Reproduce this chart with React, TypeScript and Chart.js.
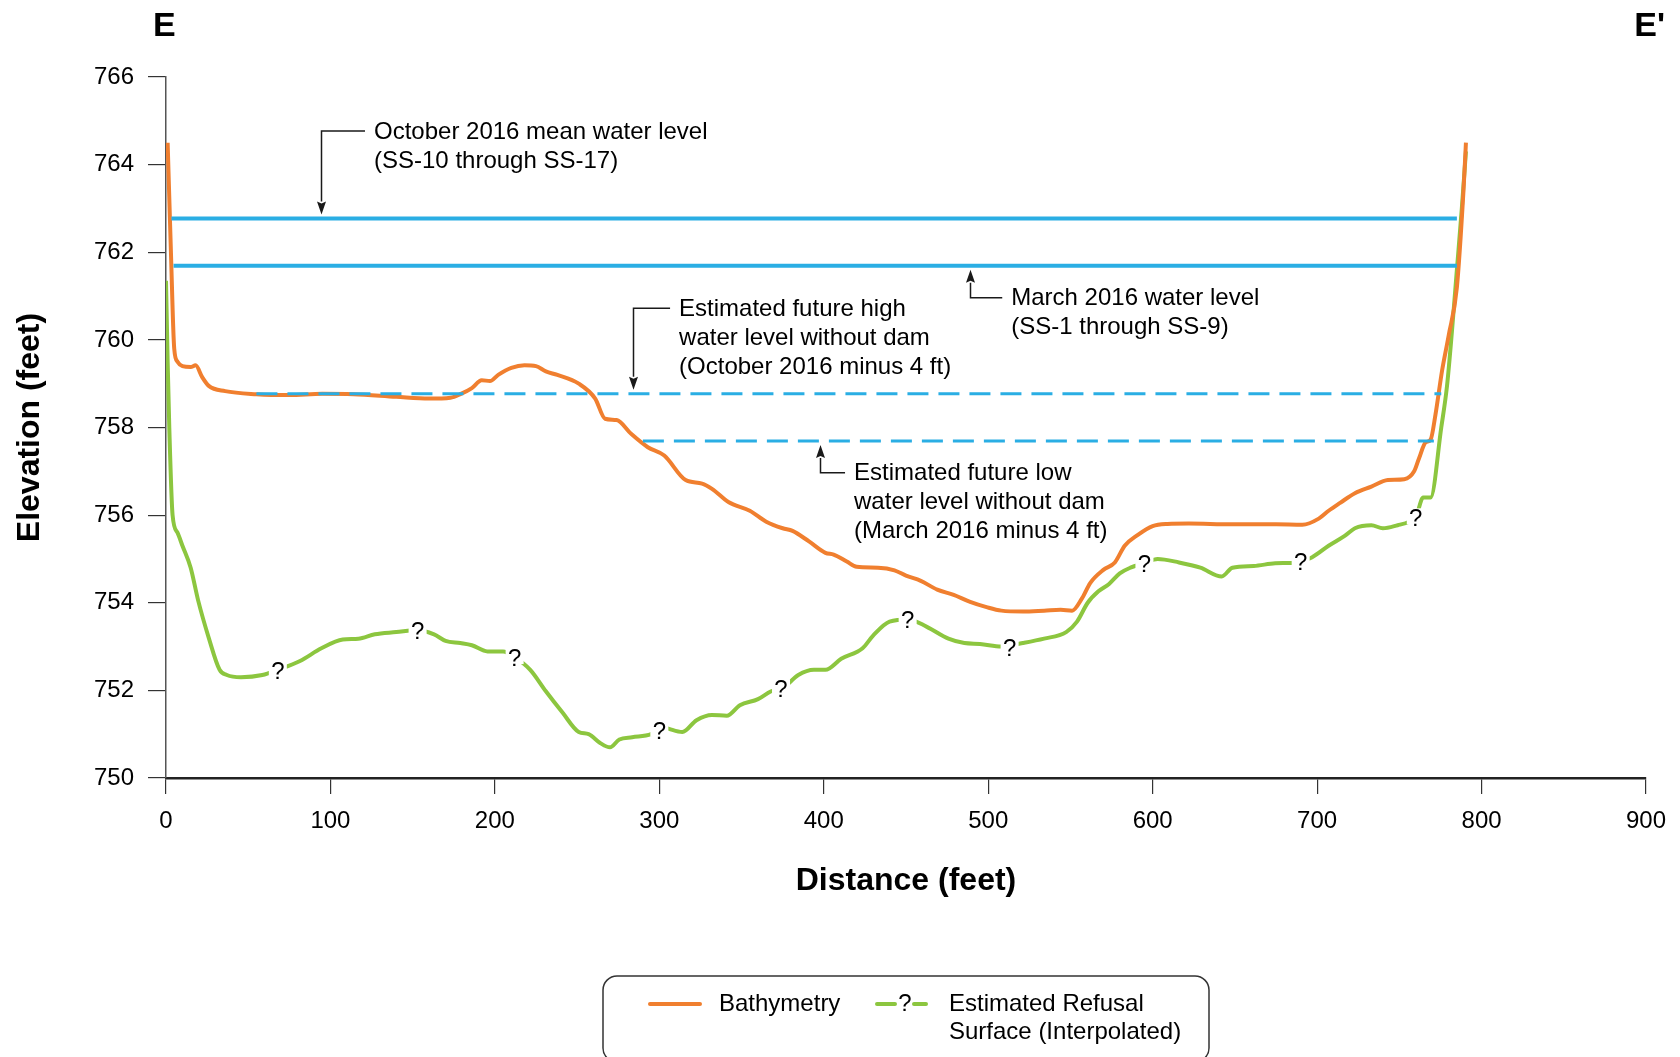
import React, { useEffect, useRef } from "react";
import { Chart, registerables } from "chart.js";

Chart.register(...registerables);

// Bathymetry profile: [distance (ft), elevation (ft)]
const bathymetry: [number, number][] = [
  [1, 764.5], [3, 762.0], [5, 759.8], [7, 759.5], [10, 759.4], [15, 759.38], [18, 759.42],
  [22, 759.15], [26, 758.95], [36, 758.83], [55, 758.76], [75, 758.74], [95, 758.77],
  [114, 758.76], [140, 758.7], [160, 758.66], [173, 758.68], [179, 758.76], [186, 758.9],
  [192, 759.08], [197, 759.06], [202, 759.2], [210, 759.36], [218, 759.42], [225, 759.4],
  [231, 759.28], [238, 759.2], [251, 759.0], [261, 758.66], [267, 758.2], [274, 758.17],
  [283, 757.85], [293, 757.55], [303, 757.36], [316, 756.8], [326, 756.72], [332, 756.6],
  [342, 756.3], [355, 756.1], [365, 755.85], [375, 755.7], [381, 755.64], [391, 755.4],
  [401, 755.14], [406, 755.1], [414, 754.94], [420, 754.82], [433, 754.8], [443, 754.74],
  [450, 754.62], [459, 754.5], [469, 754.3], [479, 754.18], [489, 754.02], [499, 753.9],
  [508, 753.82], [521, 753.8], [534, 753.82], [544, 753.84], [551, 753.82], [557, 754.1],
  [562, 754.45], [570, 754.75], [577, 754.92], [583, 755.3], [591, 755.55], [600, 755.75],
  [609, 755.8], [622, 755.81], [648, 755.79], [675, 755.79], [691, 755.78], [701, 755.92],
  [707, 756.1], [714, 756.28], [723, 756.5], [733, 756.65], [743, 756.8], [753, 756.82],
  [759, 757.0], [762, 757.3], [766, 757.66], [769, 757.72], [772, 758.3], [776, 759.3],
  [780, 760.1], [785, 761.2], [789, 763.4], [790.5, 764.5],
];

// Estimated refusal surface (interpolated): [distance (ft), elevation (ft)]
const refusalSurface: [number, number][] = [
  [0, 761.35], [1, 759.5], [2, 758.0], [4, 756.0], [7, 755.6], [10, 755.3], [15, 754.8],
  [19.5, 754.06], [26, 753.2], [32.6, 752.47], [37, 752.35], [45.6, 752.3], [58.6, 752.35],
  [68, 752.47], [81.5, 752.67], [94.5, 752.96], [107.5, 753.16], [117, 753.18], [127, 753.28],
  [140, 753.33], [153, 753.38], [163, 753.28], [170, 753.13], [179, 753.08], [186, 753.03],
  [195.5, 752.89], [205, 752.89], [212, 752.76], [221.5, 752.47], [231, 751.98], [241, 751.5],
  [251, 751.05], [257, 751.0], [264, 750.8], [270, 750.7], [275.7, 750.88], [283.5, 750.93],
  [295, 751.0], [302, 751.17], [306, 751.12], [314, 751.05], [322.6, 751.32], [332, 751.44],
  [341, 751.42], [349, 751.66], [360, 751.8], [368, 751.98], [375, 752.05], [384.5, 752.35],
  [394, 752.47], [401, 752.47], [410.6, 752.72], [423.6, 752.96], [430, 753.25], [440, 753.57],
  [451.6, 753.62], [462.7, 753.45], [475.8, 753.18], [485.5, 753.08], [495, 753.06],
  [508, 753.0], [521, 753.08], [534, 753.18], [547.4, 753.33], [554, 753.57], [560.5, 754.0],
  [567, 754.26], [573.5, 754.43], [580, 754.67], [586.5, 754.8], [595, 754.9], [603, 755.0],
  [616, 754.92], [629, 754.8], [642, 754.6], [648.5, 754.8], [661.5, 754.84], [674.5, 754.9],
  [687.6, 754.92], [697, 755.04], [707, 755.3], [717, 755.53], [723, 755.7], [733, 755.77],
  [740, 755.7], [749, 755.77], [756, 755.85], [760, 755.95], [764.5, 756.4], [769, 756.4],
  [775.5, 758.0], [779, 758.95], [782, 760.2], [785, 761.6], [788, 763.0], [790.5, 764.3],
];

// Uncertainty markers ("?") along the refusal surface
const queryDistance = [68, 153, 212, 300, 374, 451, 513, 595, 690, 760];
const queryElevation = [752.47, 753.38, 752.76, 751.1, 752.05, 753.62, 753.0, 754.9, 754.95, 755.95];

// Water levels (ft) and their extents along the section (ft)
const octoberLevel = 762.77;
const marchLevel = 761.69;
const futureHighLevel = octoberLevel - 4;
const futureLowLevel = marchLevel - 4;
const octoberExtent = [3.3, 785];
const marchExtent = [4.6, 785];
const futureHighExtent = [55, 775.5];
const futureLowExtent = [290, 771];

const xTicks = [0, 100, 200, 300, 400, 500, 600, 700, 800, 900];
const yTicks = [750, 752, 754, 756, 758, 760, 762, 764, 766];

const ORANGE = "#f07f2f";
const GREEN = "#8cc63f";
const BLUE = "#2aaee4";
const FONT = "'Liberation Sans', Arial, Helvetica, sans-serif";
const TEXT_SIZE = 24;

// Leader annotations: arrow at `x` pointing to `level`, elbow at `elbow`, text starting at `textX`
const annotations = [
  { x: 94.5, level: octoberLevel, elbow: 764.77, textX: 126.5,
    lines: ["October 2016 mean water level", "(SS-10 through SS-17)"] },
  { x: 488.8, level: marchLevel, elbow: 760.96, textX: 514,
    lines: ["March 2016 water level", "(SS-1 through SS-9)"] },
  { x: 284, level: futureHighLevel, elbow: 760.72, textX: 312,
    lines: ["Estimated future high", "water level without dam", "(October 2016 minus 4 ft)"] },
  { x: 397.5, level: futureLowLevel, elbow: 756.97, textX: 418.4,
    lines: ["Estimated future low", "water level without dam", "(March 2016 minus 4 ft)"] },
];

const toPoints = (rows: [number, number][]) => rows.map(([x, y]) => ({ x, y }));
const levelLine = (level: number, extent: number[]) => extent.map((x) => ({ x, y: level }));

const overlayPlugin = {
  id: "sectionOverlay",
  afterDatasetsDraw(chart: any) {
    const { ctx, scales } = chart;
    const xs = scales.x;
    const ys = scales.y;

    // "?" markers interrupting the refusal surface
    ctx.save();
    ctx.font = `${TEXT_SIZE}px ${FONT}`;
    ctx.textAlign = "center";
    ctx.textBaseline = "alphabetic";
    queryDistance.forEach((d, i) => {
      const px = xs.getPixelForValue(d);
      const py = ys.getPixelForValue(queryElevation[i]);
      ctx.fillStyle = "#fff";
      ctx.fillRect(px - 9, py - 9, 18, 16);
      ctx.fillStyle = "#000";
      ctx.fillText("?", px, py + 9);
    });
    ctx.restore();

    // Leader lines with arrowheads and labels
    ctx.save();
    ctx.strokeStyle = "#1a1a1a";
    ctx.fillStyle = "#1a1a1a";
    ctx.lineWidth = 1.5;
    annotations.forEach((a) => {
      const px = Math.round(xs.getPixelForValue(a.x)) + 0.5;
      const elbowY = ys.getPixelForValue(a.elbow);
      const lineY = ys.getPixelForValue(a.level);
      const down = lineY > elbowY;
      const tipY = down ? lineY - 4 : lineY + 4;
      const textX = xs.getPixelForValue(a.textX);
      const headLen = 13;
      const baseY = down ? tipY - headLen : tipY + headLen;
      ctx.beginPath();
      ctx.moveTo(textX - 9, elbowY);
      ctx.lineTo(px, elbowY);
      ctx.lineTo(px, baseY);
      ctx.stroke();
      ctx.beginPath();
      ctx.moveTo(px, tipY);
      ctx.lineTo(px - 4.5, baseY);
      ctx.lineTo(px, baseY + (down ? 2 : -2));
      ctx.lineTo(px + 4.5, baseY);
      ctx.closePath();
      ctx.fill();

      ctx.fillStyle = "#000";
      ctx.font = `${TEXT_SIZE}px ${FONT}`;
      ctx.textAlign = "left";
      ctx.textBaseline = "middle";
      a.lines.forEach((t, k) => ctx.fillText(t, textX, elbowY + 1 + k * 29));
      ctx.fillStyle = "#1a1a1a";
    });
    ctx.restore();
  },
  afterDraw(chart: any) {
    const { ctx, scales } = chart;
    const xs = scales.x;
    ctx.save();
    // Section end labels
    ctx.fillStyle = "#000";
    ctx.font = `900 34px ${FONT}`;
    ctx.textBaseline = "alphabetic";
    ctx.textAlign = "left";
    ctx.fillText("E", xs.getPixelForValue(0) - 13, 36);
    ctx.textAlign = "right";
    ctx.fillText("E'", xs.getPixelForValue(900) + 19, 36);

    // Legend box
    const left = 603, top = 976, right = 1209, bottom = 1062, r = 14;
    ctx.strokeStyle = "#333";
    ctx.lineWidth = 1.5;
    ctx.beginPath();
    ctx.moveTo(left + r, top);
    ctx.lineTo(right - r, top);
    ctx.arcTo(right, top, right, top + r, r);
    ctx.lineTo(right, bottom - r);
    ctx.arcTo(right, bottom, right - r, bottom, r);
    ctx.lineTo(left + r, bottom);
    ctx.arcTo(left, bottom, left, bottom - r, r);
    ctx.lineTo(left, top + r);
    ctx.arcTo(left, top, left + r, top, r);
    ctx.stroke();

    const rowY = 1004;
    ctx.lineCap = "round";
    ctx.lineWidth = 4;
    ctx.strokeStyle = ORANGE;
    ctx.beginPath();
    ctx.moveTo(650, rowY);
    ctx.lineTo(700, rowY);
    ctx.stroke();

    ctx.strokeStyle = GREEN;
    ctx.beginPath();
    ctx.moveTo(877, rowY);
    ctx.lineTo(895, rowY);
    ctx.moveTo(914, rowY);
    ctx.lineTo(926, rowY);
    ctx.stroke();

    ctx.fillStyle = "#000";
    ctx.font = `${TEXT_SIZE}px ${FONT}`;
    ctx.textAlign = "center";
    ctx.textBaseline = "middle";
    ctx.fillText("?", 905, rowY);
    ctx.textAlign = "left";
    ctx.fillText("Bathymetry", 719, rowY);
    ctx.fillText("Estimated Refusal", 949, rowY);
    ctx.fillText("Surface (Interpolated)", 949, rowY + 28);
    ctx.restore();
  },
};

export default function App() {
  const canvasRef = useRef<HTMLCanvasElement | null>(null);

  useEffect(() => {
    if (!canvasRef.current) return;
    const tickFont = { family: FONT, size: TEXT_SIZE };
    const titleFont = { family: FONT, size: 32, weight: "bold" as const };

    const chart = new Chart(canvasRef.current, {
      type: "line",
      data: {
        datasets: [
          {
            label: "October 2016 mean water level",
            data: levelLine(octoberLevel, octoberExtent),
            borderColor: BLUE, borderWidth: 4, pointRadius: 0, order: 0,
          },
          {
            label: "March 2016 water level",
            data: levelLine(marchLevel, marchExtent),
            borderColor: BLUE, borderWidth: 4, pointRadius: 0, order: 0,
          },
          {
            label: "Estimated future high water level without dam",
            data: levelLine(futureHighLevel, futureHighExtent),
            borderColor: BLUE, borderWidth: 3, borderDash: [21, 10], pointRadius: 0, order: 0,
          },
          {
            label: "Estimated future low water level without dam",
            data: levelLine(futureLowLevel, futureLowExtent),
            borderColor: BLUE, borderWidth: 3, borderDash: [21, 10], pointRadius: 0, order: 0,
          },
          {
            label: "Bathymetry",
            data: toPoints(bathymetry),
            borderColor: ORANGE, borderWidth: 4, pointRadius: 0, tension: 0.3,
            cubicInterpolationMode: "monotone", order: 1,
          },
          {
            label: "Estimated Refusal Surface (Interpolated)",
            data: toPoints(refusalSurface),
            borderColor: GREEN, borderWidth: 4, pointRadius: 0,
            cubicInterpolationMode: "monotone", order: 2,
          },
        ],
      },
      options: {
        animation: false,
        responsive: false,
        devicePixelRatio: 1,
        layout: { padding: { left: 0, right: 34, top: 77, bottom: 149 } },
        plugins: { legend: { display: false }, tooltip: { enabled: false } },
        scales: {
          x: {
            type: "linear",
            min: 0,
            max: 900,
            afterBuildTicks: (s: any) => { s.ticks = xTicks.map((v) => ({ value: v })); },
            afterFit: (s: any) => { s.height = 130; },
            ticks: { font: tickFont, color: "#000", padding: 13, maxRotation: 0 },
            grid: { drawOnChartArea: false, drawTicks: true, tickLength: 16, color: "#333", lineWidth: 1.2 },
            border: { display: true, color: "#222", width: 2.5 },
            title: { display: true, text: "Distance (feet)", font: titleFont, color: "#000", padding: { top: 0, bottom: 8 } },
          },
          y: {
            type: "linear",
            min: 750,
            max: 766,
            afterBuildTicks: (s: any) => { s.ticks = yTicks.map((v) => ({ value: v })); },
            afterFit: (s: any) => { s.width = 166; },
            ticks: { font: tickFont, color: "#000", padding: 14 },
            grid: { drawOnChartArea: false, drawTicks: true, tickLength: 18, color: "#333", lineWidth: 1.2 },
            border: { display: true, color: "#555", width: 1.5 },
            title: { display: true, text: "Elevation (feet)", font: titleFont, color: "#000", padding: { top: 11, bottom: 0 } },
          },
        },
      },
      plugins: [overlayPlugin],
    });
    return () => chart.destroy();
  }, []);

  return (
    <div style={{ position: "absolute", left: 0, top: 0, width: 1680, height: 1057, background: "#fff", overflow: "hidden" }}>
      <canvas ref={canvasRef} width={1680} height={1057} style={{ display: "block" }} />
    </div>
  );
}
